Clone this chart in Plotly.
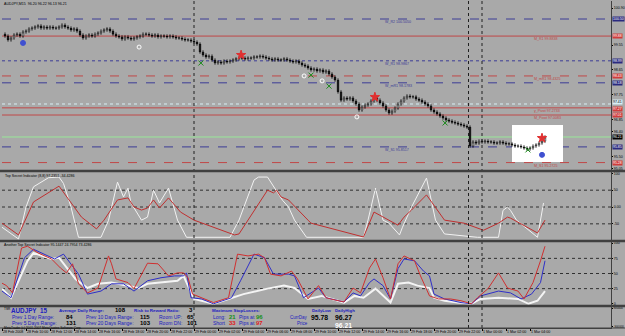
import plotly.graph_objects as go
from plotly.subplots import make_subplots

# ---------------- data ----------------
# 15-minute closes of AUDJPY (bar index 0..180)
closes = [99.88, 99.74, 99.81, 99.92, 99.95, 99.88, 100.03, 100.06, 100.14, 100.17,
          100.21, 100.25, 100.17, 100.21, 100.17, 100.21, 100.17, 100.17, 100.21, 100.28,
          100.21, 100.17, 100.10, 100.14, 100.06, 99.92, 99.81, 99.88, 99.92, 99.88,
          99.95, 99.99, 100.06, 100.10, 100.14, 100.06, 99.95, 99.88, 99.85, 99.77,
          99.85, 99.81, 99.77, 99.81, 99.85, 99.88, 99.95, 99.95, 99.92, 99.88,
          99.92, 99.85, 99.88, 99.88, 99.85, 99.88, 99.85, 99.81, 99.81, 99.77,
          99.74, 99.74, 99.70, 99.66, 99.59, 99.30, 99.19, 99.12, 99.15, 99.01,
          98.90, 98.94, 98.90, 98.97, 98.94, 98.97, 99.01, 99.05, 99.08, 99.08,
          99.05, 99.08, 99.08, 99.12, 99.12, 99.15, 99.12, 99.08, 99.05, 99.01,
          99.05, 99.01, 99.01, 99.05, 99.01, 98.97, 98.94, 98.97, 98.90, 98.83,
          98.79, 98.72, 98.65, 98.68, 98.61, 98.65, 98.57, 98.61, 98.50, 98.39,
          98.28, 97.85, 97.55, 97.63, 97.59, 97.63, 97.52, 97.41, 97.19, 97.30,
          97.37, 97.41, 97.52, 97.63, 97.55, 97.45, 97.34, 97.19, 97.08, 97.15,
          97.26, 97.41, 97.52, 97.63, 97.70, 97.67, 97.67, 97.59, 97.55, 97.48,
          97.41, 97.34, 97.19, 97.12, 97.05, 96.97, 96.90, 96.83, 96.79, 96.75,
          96.72, 96.68, 96.65, 96.61, 96.57, 95.88, 96.03, 95.99, 96.06, 96.03,
          96.06, 96.03, 96.03, 95.99, 95.99, 96.03, 95.99, 95.96, 95.96, 95.92,
          95.88, 95.88, 95.85, 95.81, 95.77, 95.81, 95.88, 95.92, 95.99, 96.06,
          96.21]
first_open = 99.95
wick = 0.07

tick_bars = [-1, 7, 15, 23, 31, 39, 47, 55, 63, 71, 79, 87, 95, 103, 111, 119, 127, 135,
             143, 151, 159, 167, 175]
tick_labels = ["28 Feb 2008", "28 Feb 10:00", "28 Feb 12:00", "28 Feb 14:00", "28 Feb 16:00",
               "28 Feb 18:00", "28 Feb 20:00", "28 Feb 22:00", "29 Feb 00:00", "29 Feb 02:00",
               "29 Feb 04:00", "29 Feb 06:00", "29 Feb 08:00", "29 Feb 10:00", "29 Feb 12:00",
               "29 Feb 14:00", "29 Feb 16:00", "29 Feb 18:00", "29 Feb 20:00", "29 Feb 22:00",
               "1 Mar 00:00", "1 Mar 02:00", "1 Mar 04:00"]
separator_bars = [63, 154.5, 159]

price_ticks = [100.90, 99.55, 98.65, 97.75, 96.85, 96.40, 95.50, 95.05]

level_prices = [100.50, 99.88, 98.98, 98.43, 98.18, 97.41, 97.27, 97.01, 96.21, 95.85, 95.28]
level_names = ["W_R2 100.5050", "M_R1 99.8838", "W_R1 98.9867", "M_mR1 98.4325", "W_mR1 98.1783",
               "", "y_Pivot 97.2733", "M_Pivot 97.0083", "", "W_S1 95.8517", "M_S1 95.2725"]
level_kind = ["blue", "red", "blue", "red", "blue", "light", "red", "red", "green", "blue", "red"]
level_dash = ["dash", "solid", "dot", "dash", "dash", "dot", "solid", "solid", "solid", "dash", "dash"]
level_tags = ["100.50", "99.88", "98.99", "98.43", "98.18", "97.41", "97.27", "97.01", "96.21", "95.85", "95.28"]

# signal markers on price
sig_bar = [6, 44.7, 65.3, 78.7, 99.7, 102, 105.7, 108, 117.3, 123.3, 146.7, 174.3, 179, 179]
sig_price = [99.63, 99.48, 98.90, 99.19, 98.43, 98.46, 98.25, 98.06, 96.94, 97.66, 96.72, 95.74, 96.17, 95.56]
sig_kind = ["blue", "white", "green", "red", "white", "green", "white", "green", "white", "red",
            "green", "green", "red", "blue"]

# Indicator 1 (Top Secret Indicator)
ind1_white_x = [-1, 4.5, 7, 9.5, 14.5, 18, 19.5, 22, 24.5, 32, 34.5, 37.5, 39.5, 41, 42, 45.5,
                47.5, 49.5, 51.5, 54.5, 57.5, 60.5, 75, 78, 83, 84.5, 87.5, 89.5, 91, 92.5, 94.5,
                96.5, 100.5, 119.5, 121, 123.5, 126, 128, 131.5, 132.5, 135.5, 140.5, 143.5,
                146.5, 157.5, 164.5, 166, 167.5, 168.5, 170.5, 177.5, 179.5]
ind1_white = [-60, -95, 0, 60, 87, 89, 70, 0, -90, -90, -40, 74, 30, 56, 12, -39,
              -30, 50, 12, 56, -39, -90, -90, -39, 80, 89, 89, 60, 42, 20, 0,
              -39, -90, -90, -39, 56, -39, -48, -83, -60, 0, 86, -39,
              -80, -90, -90, -10, 0, -10, -39, -90, 12]
ind1_red_x = [-1, 4.5, 9.5, 18, 25.5, 30.5, 33, 37.5, 41, 43, 45.5, 47.5, 49.5, 51.5, 54.5,
              58.5, 63, 76.5, 78, 87.5, 89.5, 90.5, 92, 94.5, 101, 102, 119.5, 123, 131, 133,
              135.5, 140.5, 146.5, 153, 159.5, 164.5, 167.5, 168.5, 177.5, 180]
ind1_red = [-48, -83, 15, 62, -30, -65, -39, 21, 27, 0, -9, -3, 21, -3, 27,
            -15, -39, -83, -80, 50, 42, 50, 30, 21, -39, -48, -89, -15, -54, -30,
            -9, 36, -39, -48, -69, -48, -30, -33, -77, -39]

# Indicator 2 (Another Top Secret Indicator)
ind2_red_x = [-1, 0.5, 2.5, 5.5, 7.5, 11, 15.5, 18.5, 20.5, 22.5, 24.5, 27.5, 31, 34.5, 35.5,
              37, 41, 43, 47.5, 51, 54.5, 57.5, 59.5, 61, 62.5, 65.5, 69.5, 74.5, 77.5, 81,
              84.5, 86.5, 88.5, 92, 95.5, 97.5, 101, 104.5, 107, 108.5, 113, 116, 118.5, 121.5,
              123.5, 126, 128.5, 131, 133, 136.5, 138.5, 141.5, 144.5, 148.5, 152, 155.5, 157.5,
              161, 164.5, 167.5, 171, 173, 176, 178.5, 180]
ind2_red = [34, 30, 18, 92, 95, 84, 74, 59, 51, 66, 33, 18, 26, 79, 66,
            41, 35, 25, 67, 66, 46, 51, 51, 43, 16, 10, 2, 10, 82, 79,
            82, 76, 49, 46, 54, 41, 8, 30, 10, 8, 3, 26, 18, 59,
            74, 43, 8, 66, 79, 71, 46, 13, 8, 8, 5, 0, 10,
            25, 51, 26, 21, 8, 35, 71, 95]
ind2_blue_x = [-1, 2, 6.5, 9.5, 13, 16.5, 19.5, 24.5, 27.5, 32, 35.5, 39.5, 43, 47.5, 52, 56.5,
               59.5, 60.5, 62, 65.5, 69.5, 75.5, 78.5, 83, 86.5, 89.5, 94.5, 96.5, 99.5, 104.5,
               107, 113, 116, 118.5, 121.5, 123, 126, 128.5, 131, 133, 136.5, 139.5, 141.5, 143,
               146.5, 152, 155.5, 158.5, 164.5, 168.5, 172, 175.5, 178.5, 180]
ind2_blue = [21, 10, 76, 90, 82, 74, 82, 49, 16, 21, 33, 33, 21, 38, 43, 46,
             46, 51, 10, 8, 0, 10, 38, 82, 76, 49, 49, 46, 10, 26,
             10, 3, 18, 13, 35, 41, 30, 8, 58, 74, 71, 54, 46, 16,
             8, 2, 0, 13, 21, 18, 8, 16, 35, 71]
ind2_white_x = [-1, 2, 7.5, 9.5, 15.5, 18, 23.5, 27.5, 31, 35.5, 44.5, 47.5, 57.5, 59.5, 63,
                65.5, 69.5, 74.5, 79.5, 87.5, 93, 96.5, 101, 105.5, 113, 116.5, 119.5, 123.5,
                126, 128.5, 131, 134.5, 137.5, 141.5, 143, 146.5, 151, 155.5, 158.5, 164.5,
                171, 174.5, 177.5, 180]
ind2_white = [25, 10, 71, 84, 74, 76, 41, 26, 33, 35, 26, 33, 38, 46, 8,
              5, 0, 8, 16, 25, 30, 26, 8, 13, 2, 13, 10, 25,
              13, 2, 33, 35, 30, 26, 10, 5, 2, 0, 8, 10,
              8, 0, 5, 21]

ind1_levels = [50, 0, -50]
ind2_levels = [75, 50, 25]

# ---------------- layout helpers ----------------
W, H = 625, 336
ML, MR, MT, MB = 2, 14, 0, 8
PW, PH = W - ML - MR, H - MT - MB


def PX(x):
    return (x - ML) / PW


def PY(y):
    return (PH - (y - MT)) / PH


BG = "#a9a9a9"
FRAME = "#404040"
BLUE = "#3c3c96"
RED = "#c04848"
FONT = "Liberation Sans, Arial, sans-serif"
style = {"blue": (BLUE, "#2a2a80"), "red": (RED, "#d03c3c"), "light": ("#d8eef4", "#d8eef4"),
         "green": ("#98e898", "#000000")}

opens = [first_open] + closes[:-1]
highs = [max(o, c) + wick for o, c in zip(opens, closes)]
lows = [min(o, c) - wick for o, c in zip(opens, closes)]
bars = list(range(len(closes)))

fig = make_subplots(rows=4, cols=1, shared_xaxes=True)

fig.add_trace(go.Candlestick(x=bars, open=opens, high=highs, low=lows, close=closes,
                             increasing=dict(line=dict(color="black", width=0.6), fillcolor="white"),
                             decreasing=dict(line=dict(color="black", width=0.6), fillcolor="black"),
                             whiskerwidth=0, showlegend=False, hoverinfo="skip"), row=1, col=1)

sig_style = {"blue": ("circle", "#4050d0", 5), "white": ("circle-open", "white", 4),
             "green": ("x-thin-open", "#1a8a1a", 5), "red": ("star", "#e03030", 7)}
for k, (sym, col, sz) in sig_style.items():
    xs = [b for b, kk in zip(sig_bar, sig_kind) if kk == k]
    ys = [p for p, kk in zip(sig_price, sig_kind) if kk == k]
    fig.add_trace(go.Scatter(x=xs, y=ys, mode="markers", showlegend=False, hoverinfo="skip",
                             marker=dict(symbol=sym, color=col, size=sz,
                                         line=dict(color=col, width=1))), row=1, col=1)

fig.add_trace(go.Scatter(x=ind1_white_x, y=ind1_white, mode="lines", line=dict(color="#f2f2f2", width=1),
                         showlegend=False, hoverinfo="skip"), row=2, col=1)
fig.add_trace(go.Scatter(x=ind1_red_x, y=ind1_red, mode="lines", line=dict(color="#c03030", width=1),
                         showlegend=False, hoverinfo="skip"), row=2, col=1)

fig.add_trace(go.Scatter(x=ind2_white_x, y=ind2_white, mode="lines", line=dict(color="#f4f4f4", width=2),
                         showlegend=False, hoverinfo="skip"), row=3, col=1)
fig.add_trace(go.Scatter(x=ind2_blue_x, y=ind2_blue, mode="lines", line=dict(color="#2f2fc8", width=1),
                         showlegend=False, hoverinfo="skip"), row=3, col=1)
fig.add_trace(go.Scatter(x=ind2_red_x, y=ind2_red, mode="lines", line=dict(color="#d03030", width=1),
                         showlegend=False, hoverinfo="skip"), row=3, col=1)

fig.add_trace(go.Scatter(x=[0], y=[0], mode="markers", marker=dict(opacity=0), showlegend=False,
                         hoverinfo="skip"), row=4, col=1)

shapes = []
annots = []

# white box object on price chart
shapes.append(dict(type="rect", xref="x", yref="y", x0=169, x1=186, y0=95.30, y1=96.65,
                   fillcolor="white", line=dict(width=0), layer="below"))

# level lines
for p, nm, kd, ds, tg in zip(level_prices, level_names, level_kind, level_dash, level_tags):
    lc, tc = style[kd]
    shapes.append(dict(type="line", xref="x domain", yref="y", x0=0, x1=1, y0=p, y1=p,
                       line=dict(color=lc, width=1, dash=ds), layer="below"))
    if nm:
        xpos = 126 if kd == "blue" else 175.5
        annots.append(dict(x=xpos, y=p, xref="x", yref="y", text=nm, showarrow=False,
                           xanchor="left", yanchor="top", yshift=1,
                           font=dict(size=3.6, color=lc, family=FONT)))
    fc = "black" if kd == "light" else "white"
    ys = 2 if kd == "light" else (-1 if tg == "97.27" else 0)
    annots.append(dict(x=1, y=p, xref="paper", yref="y", text=tg, showarrow=False,
                       xanchor="left", xshift=1, yshift=ys, bgcolor=tc, borderpad=0,
                       font=dict(size=3.5, color=fc, family=FONT)))

for lv in ind1_levels:
    shapes.append(dict(type="line", xref="x2 domain", yref="y2", x0=0, x1=1, y0=lv, y1=lv,
                       line=dict(color="#303030", width=1, dash="dot"), layer="below"))
for lv in ind2_levels:
    shapes.append(dict(type="line", xref="x3 domain", yref="y3", x0=0, x1=1, y0=lv, y1=lv,
                       line=dict(color="#303030", width=1, dash="dot"), layer="below"))

# period separators
for b in separator_bars:
    shapes.append(dict(type="line", xref="x", yref="paper", x0=b, x1=b, y0=0, y1=1,
                       line=dict(color="#202020", width=1, dash="dot"), layer="above"))

# panel separators
for ypx in [171, 241, 306]:
    shapes.append(dict(type="line", xref="paper", yref="paper", x0=PX(0), x1=PX(625),
                       y0=PY(ypx), y1=PY(ypx), line=dict(color=FRAME, width=2.5)))
shapes.append(dict(type="line", xref="paper", yref="paper", x0=PX(0), x1=PX(625),
                   y0=PY(328), y1=PY(328), line=dict(color=FRAME, width=1)))


def txt(x, y, s, size, color="black", bold=False):
    if bold:
        s = "<b>" + s + "</b>"
    annots.append(dict(x=PX(x), y=PY(y), xref="paper", yref="paper", text=s, showarrow=False,
                       xanchor="left", yanchor="middle", font=dict(size=size, color=color, family=FONT)))


TB = "#2020c0"
txt(2, 4, "AUDJPY,M15  96.20 96.22 96.13 96.21", 3.6)
txt(3, 176, "Top Secret Indicator (8,8) 97.2351 -34.4286", 3.6)
txt(2, 245, "Another Top Secret Indicator 95.1447 24.7954 73.4286", 3.6)

txt(2, 309, "TSR", 3.2)
txt(9, 310, "AUDJPY", 6.3, TB, True)
txt(38, 310, "15", 6.3, TB, True)
txt(57, 310, "Average Daily Range:", 4.4, TB, True)
txt(113, 310, "108", 6, "black", True)
txt(132, 310, "Risk to Reward Ratio:", 4.4, TB, True)
txt(187, 310, "3", 6, "black", True)
txt(210, 310, "Maximum StopLosses:", 4.4, TB, True)
txt(310, 310, "DailyLow", 4.3, TB, True)
txt(333, 310, "DailyHigh", 4.3, TB, True)

txt(10, 317, "Prev 1 Day Range:", 5, TB)
txt(64, 317, "84", 6, "black", True)
txt(84, 317, "Prev 10 Days Range:", 5, TB)
txt(138, 317, "115", 6, "black", True)
txt(157, 317, "Room UP:", 5, TB)
txt(185, 317, "65", 6, "black", True)
txt(211, 317, "Long:", 5, TB)
txt(227, 317, "21", 6, "#169016", True)
txt(237, 317, "Pips at", 5, TB)
txt(254, 317, "96", 6, "#169016", True)
txt(288, 317, "CurrDay", 4.5, TB)
txt(309, 317, "95.78", 6.8, "black", True)
txt(333, 317, "96.27", 6.8, "black", True)

txt(10, 323, "Prev 5 Days Range:", 5, TB)
txt(64, 323, "131", 6, "black", True)
txt(84, 323, "Prev 20 Days Range:", 5, TB)
txt(138, 323, "103", 6, "black", True)
txt(157, 323, "Room DN:", 5, TB)
txt(185, 323, "101", 6, "black", True)
txt(211, 323, "Short", 5, TB)
txt(227, 323, "33", 6, "#e02020", True)
txt(237, 323, "Pips at", 5, TB)
txt(254, 323, "97", 6, "#e02020", True)
txt(295, 323, "Price", 4.5, TB)
txt(333, 325, "96.21", 6.8, "white", True)
txt(2, 327.5, "MetaTrader (c) 2001-2007 MetaQuotes Software Corp.", 3.2)

yax = dict(side="right", showgrid=False, zeroline=False, showline=True, linecolor=FRAME, linewidth=1,
           ticks="outside", ticklen=1, tickcolor="black", automargin=False,
           tickfont=dict(size=3.6, color="black", family=FONT), fixedrange=True)

fig.update_layout(
    width=W, height=H, margin=dict(l=ML, r=MR, t=MT, b=MB, autoexpand=False),
    paper_bgcolor=BG, plot_bgcolor=BG, showlegend=False,
    shapes=shapes, annotations=annots,
    yaxis=dict(yax, domain=[PY(170), PY(1)], range=[95.01, 101.155], tickvals=price_ticks,
               tickformat=".2f"),
    yaxis2=dict(yax, domain=[PY(240), PY(172)], range=[-98, 104], tickvals=[100, 50, 0, -50, -100],
                ticktext=["100", "50", "0.00", "-50", "-100"]),
    yaxis3=dict(yax, domain=[PY(305), PY(242)], range=[-2, 102], tickvals=[100, 75, 50, 25, 0]),
    yaxis4=dict(yax, domain=[0, PY(307)], range=[-1000000, 1000000], tickvals=[880000, -880000],
                ticktext=["900000", "-900000"], tickfont=dict(size=2.8, color="black", family=FONT)),
)
for i in range(1, 5):
    fig.update_xaxes(range=[-1, 202], showgrid=False, zeroline=False, fixedrange=True, automargin=False,
                     rangeslider_visible=False, row=i, col=1)
fig.update_xaxes(showticklabels=False, ticks="", row=1, col=1)
fig.update_xaxes(showticklabels=False, ticks="", row=2, col=1)
fig.update_xaxes(showticklabels=False, ticks="", row=3, col=1)
fig.update_xaxes(tickvals=tick_bars, ticktext=tick_labels, ticks="outside", ticklen=2, tickcolor="black",
                 tickangle=0, tickfont=dict(size=3.6, color="black", family=FONT),
                 ticklabelposition="outside right", showline=True, linecolor=FRAME, row=4, col=1)

fig.write_html("out.html", config={"displayModeBar": False})
